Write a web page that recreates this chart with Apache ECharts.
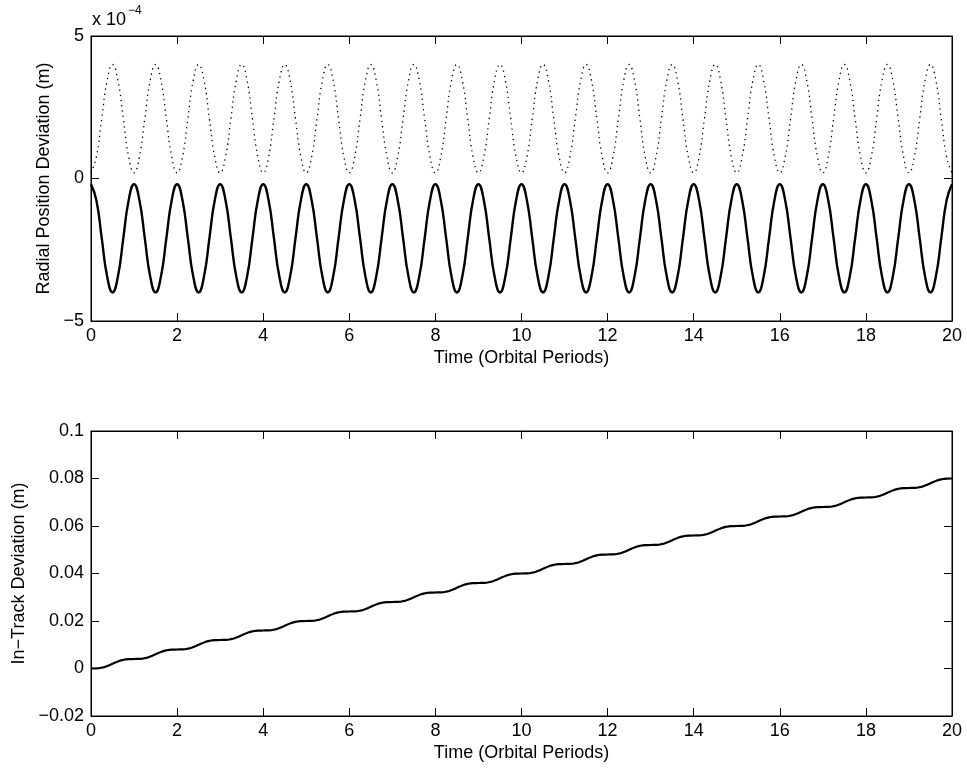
<!DOCTYPE html>
<html>
<head>
<meta charset="utf-8">
<script src="https://cdn.jsdelivr.net/npm/echarts@6/dist/echarts.min.js"></script>
<style>html,body{margin:0;padding:0;background:#fff;}#c{width:967px;height:769px;}</style>
</head>
<body>
<div id="c"></div>
<script>
// Time in orbital periods (sampled every 1/8 period)
const time = [
0,0.125,0.25,0.375,0.5,0.625,0.75,0.875,1,1.125,1.25,1.375,1.5,1.625,1.75,1.875,
2,2.125,2.25,2.375,2.5,2.625,2.75,2.875,3,3.125,3.25,3.375,3.5,3.625,3.75,3.875,
4,4.125,4.25,4.375,4.5,4.625,4.75,4.875,5,5.125,5.25,5.375,5.5,5.625,5.75,5.875,
6,6.125,6.25,6.375,6.5,6.625,6.75,6.875,7,7.125,7.25,7.375,7.5,7.625,7.75,7.875,
8,8.125,8.25,8.375,8.5,8.625,8.75,8.875,9,9.125,9.25,9.375,9.5,9.625,9.75,9.875,
10,10.125,10.25,10.375,10.5,10.625,10.75,10.875,11,11.125,11.25,11.375,11.5,11.625,11.75,11.875,
12,12.125,12.25,12.375,12.5,12.625,12.75,12.875,13,13.125,13.25,13.375,13.5,13.625,13.75,13.875,
14,14.125,14.25,14.375,14.5,14.625,14.75,14.875,15,15.125,15.25,15.375,15.5,15.625,15.75,15.875,
16,16.125,16.25,16.375,16.5,16.625,16.75,16.875,17,17.125,17.25,17.375,17.5,17.625,17.75,17.875,
18,18.125,18.25,18.375,18.5,18.625,18.75,18.875,19,19.125,19.25,19.375,19.5,19.625,19.75,19.875,
20];

// Radial position deviation, solid curve (units of 1e-4 m)
const radialSolid = [
-0.2,-0.76,-2.1,-3.44,-4.0,-3.44,-2.1,-0.76, -0.2,-0.76,-2.1,-3.44,-4.0,-3.44,-2.1,-0.76,
-0.2,-0.76,-2.1,-3.44,-4.0,-3.44,-2.1,-0.76, -0.2,-0.76,-2.1,-3.44,-4.0,-3.44,-2.1,-0.76,
-0.2,-0.76,-2.1,-3.44,-4.0,-3.44,-2.1,-0.76, -0.2,-0.76,-2.1,-3.44,-4.0,-3.44,-2.1,-0.76,
-0.2,-0.76,-2.1,-3.44,-4.0,-3.44,-2.1,-0.76, -0.2,-0.76,-2.1,-3.44,-4.0,-3.44,-2.1,-0.76,
-0.2,-0.76,-2.1,-3.44,-4.0,-3.44,-2.1,-0.76, -0.2,-0.76,-2.1,-3.44,-4.0,-3.44,-2.1,-0.76,
-0.2,-0.76,-2.1,-3.44,-4.0,-3.44,-2.1,-0.76, -0.2,-0.76,-2.1,-3.44,-4.0,-3.44,-2.1,-0.76,
-0.2,-0.76,-2.1,-3.44,-4.0,-3.44,-2.1,-0.76, -0.2,-0.76,-2.1,-3.44,-4.0,-3.44,-2.1,-0.76,
-0.2,-0.76,-2.1,-3.44,-4.0,-3.44,-2.1,-0.76, -0.2,-0.76,-2.1,-3.44,-4.0,-3.44,-2.1,-0.76,
-0.2,-0.76,-2.1,-3.44,-4.0,-3.44,-2.1,-0.76, -0.2,-0.76,-2.1,-3.44,-4.0,-3.44,-2.1,-0.76,
-0.2,-0.76,-2.1,-3.44,-4.0,-3.44,-2.1,-0.76, -0.2,-0.76,-2.1,-3.44,-4.0,-3.44,-2.1,-0.76,
-0.2];

// Radial position deviation, dotted curve (units of 1e-4 m)
const radialDotted = [
0.2,0.76,2.1,3.44,4.0,3.44,2.1,0.76, 0.2,0.76,2.1,3.44,4.0,3.44,2.1,0.76,
0.2,0.76,2.1,3.44,4.0,3.44,2.1,0.76, 0.2,0.76,2.1,3.44,4.0,3.44,2.1,0.76,
0.2,0.76,2.1,3.44,4.0,3.44,2.1,0.76, 0.2,0.76,2.1,3.44,4.0,3.44,2.1,0.76,
0.2,0.76,2.1,3.44,4.0,3.44,2.1,0.76, 0.2,0.76,2.1,3.44,4.0,3.44,2.1,0.76,
0.2,0.76,2.1,3.44,4.0,3.44,2.1,0.76, 0.2,0.76,2.1,3.44,4.0,3.44,2.1,0.76,
0.2,0.76,2.1,3.44,4.0,3.44,2.1,0.76, 0.2,0.76,2.1,3.44,4.0,3.44,2.1,0.76,
0.2,0.76,2.1,3.44,4.0,3.44,2.1,0.76, 0.2,0.76,2.1,3.44,4.0,3.44,2.1,0.76,
0.2,0.76,2.1,3.44,4.0,3.44,2.1,0.76, 0.2,0.76,2.1,3.44,4.0,3.44,2.1,0.76,
0.2,0.76,2.1,3.44,4.0,3.44,2.1,0.76, 0.2,0.76,2.1,3.44,4.0,3.44,2.1,0.76,
0.2,0.76,2.1,3.44,4.0,3.44,2.1,0.76, 0.2,0.76,2.1,3.44,4.0,3.44,2.1,0.76,
0.2];

// In-track deviation (m)
const inTrack = [
0,0.00005,0.00036,0.00105,0.002,0.00295,0.00364,0.00395,
0.004,0.00405,0.00436,0.00505,0.006,0.00695,0.00764,0.00795,
0.008,0.00805,0.00836,0.00905,0.01,0.01095,0.01164,0.01195,
0.012,0.01205,0.01236,0.01305,0.014,0.01495,0.01564,0.01595,
0.016,0.01605,0.01636,0.01705,0.018,0.01895,0.01964,0.01995,
0.02,0.02005,0.02036,0.02105,0.022,0.02295,0.02364,0.02395,
0.024,0.02405,0.02436,0.02505,0.026,0.02695,0.02764,0.02795,
0.028,0.02805,0.02836,0.02905,0.03,0.03095,0.03164,0.03195,
0.032,0.03205,0.03236,0.03305,0.034,0.03495,0.03564,0.03595,
0.036,0.03605,0.03636,0.03705,0.038,0.03895,0.03964,0.03995,
0.04,0.04005,0.04036,0.04105,0.042,0.04295,0.04364,0.04395,
0.044,0.04405,0.04436,0.04505,0.046,0.04695,0.04764,0.04795,
0.048,0.04805,0.04836,0.04905,0.05,0.05095,0.05164,0.05195,
0.052,0.05205,0.05236,0.05305,0.054,0.05495,0.05564,0.05595,
0.056,0.05605,0.05636,0.05705,0.058,0.05895,0.05964,0.05995,
0.06,0.06005,0.06036,0.06105,0.062,0.06295,0.06364,0.06395,
0.064,0.06405,0.06436,0.06505,0.066,0.06695,0.06764,0.06795,
0.068,0.06805,0.06836,0.06905,0.07,0.07095,0.07164,0.07195,
0.072,0.07205,0.07236,0.07305,0.074,0.07495,0.07564,0.07595,
0.076,0.07605,0.07636,0.07705,0.078,0.07895,0.07964,0.07995,
0.08];

const xLabel = 'Time (Orbital Periods)';
const yLabelTop = 'Radial Position Deviation (m)';
const yLabelBottom = 'In\u2212Track Deviation (m)';

const FONT = "'Liberation Sans', Arial, Helvetica, sans-serif";
const FS = 18;
const pairs = (ys) => time.map((t, i) => [t, ys[i]]);
const fmtNum = (v) => {
  const a = parseFloat(Math.abs(v).toFixed(4)).toString();
  return (v < -1e-12 ? '\u2212' : '') + (Math.abs(v) < 1e-12 ? '0' : a);
};

function xAx(gi, pos, labels) {
  return {
    type: 'value', gridIndex: gi, position: pos, min: 0, max: 20, interval: 2,
    axisLine: { show: true, onZero: false, lineStyle: { color: '#000', width: 1 } },
    axisTick: { show: true, inside: true, length: 8, lineStyle: { color: '#000' } },
    axisLabel: { show: labels, color: '#000', fontSize: FS, fontFamily: FONT, margin: 6 },
    splitLine: { show: false },
    name: labels ? xLabel : '', nameLocation: 'middle', nameGap: 28,
    nameTextStyle: { color: '#000', fontSize: FS, fontFamily: FONT }
  };
}
function yAx(gi, pos, labels, min, max, interval, name, gap) {
  return {
    type: 'value', gridIndex: gi, position: pos, min: min, max: max, interval: interval,
    axisLine: { show: true, onZero: false, lineStyle: { color: '#000', width: 1 } },
    axisTick: { show: true, inside: true, length: 8, lineStyle: { color: '#000' } },
    axisLabel: { show: labels, color: '#000', fontSize: FS, fontFamily: FONT, margin: 7, formatter: fmtNum },
    splitLine: { show: false },
    name: labels ? name : '', nameLocation: 'middle', nameGap: gap, nameRotate: 90,
    nameTextStyle: { color: '#000', fontSize: FS, fontFamily: FONT }
  };
}

const chart = echarts.init(document.getElementById('c'), null, { renderer: 'canvas' });
chart.setOption({
  backgroundColor: '#fff',
  animation: false,
  grid: [
    { left: 91, right: 15, top: 36, height: 285, show: true, borderColor: '#000', borderWidth: 1, backgroundColor: '#fff' },
    { left: 91, right: 15, top: 431, height: 285, show: true, borderColor: '#000', borderWidth: 1, backgroundColor: '#fff' }
  ],
  xAxis: [xAx(0, 'bottom', true), xAx(0, 'top', false), xAx(1, 'bottom', true), xAx(1, 'top', false)],
  yAxis: [
    yAx(0, 'left', true, -5, 5, 5, yLabelTop, 36),
    yAx(0, 'right', false, -5, 5, 5, '', 0),
    yAx(1, 'left', true, -0.02, 0.1, 0.02, yLabelBottom, 62),
    yAx(1, 'right', false, -0.02, 0.1, 0.02, '', 0)
  ],
  graphic: [
    { type: 'text', left: 92, top: 11, style: { text: 'x 10', fill: '#000', font: FS + 'px ' + FONT } },
    { type: 'text', left: 128, top: 5, style: { text: '\u22124', fill: '#000', font: '12px ' + FONT } }
  ],
  series: [
    { type: 'line', xAxisIndex: 0, yAxisIndex: 0, data: pairs(radialDotted), smooth: 0.5, showSymbol: false,
      lineStyle: { color: '#000', width: 1.3, type: [1.3, 4] } },
    { type: 'line', xAxisIndex: 0, yAxisIndex: 0, data: pairs(radialSolid), smooth: 0.5, showSymbol: false,
      lineStyle: { color: '#000', width: 2.4 } },
    { type: 'line', xAxisIndex: 2, yAxisIndex: 2, data: pairs(inTrack), smooth: 0.5, showSymbol: false,
      lineStyle: { color: '#000', width: 2.2 } }
  ]
});
</script>
</body>
</html>
